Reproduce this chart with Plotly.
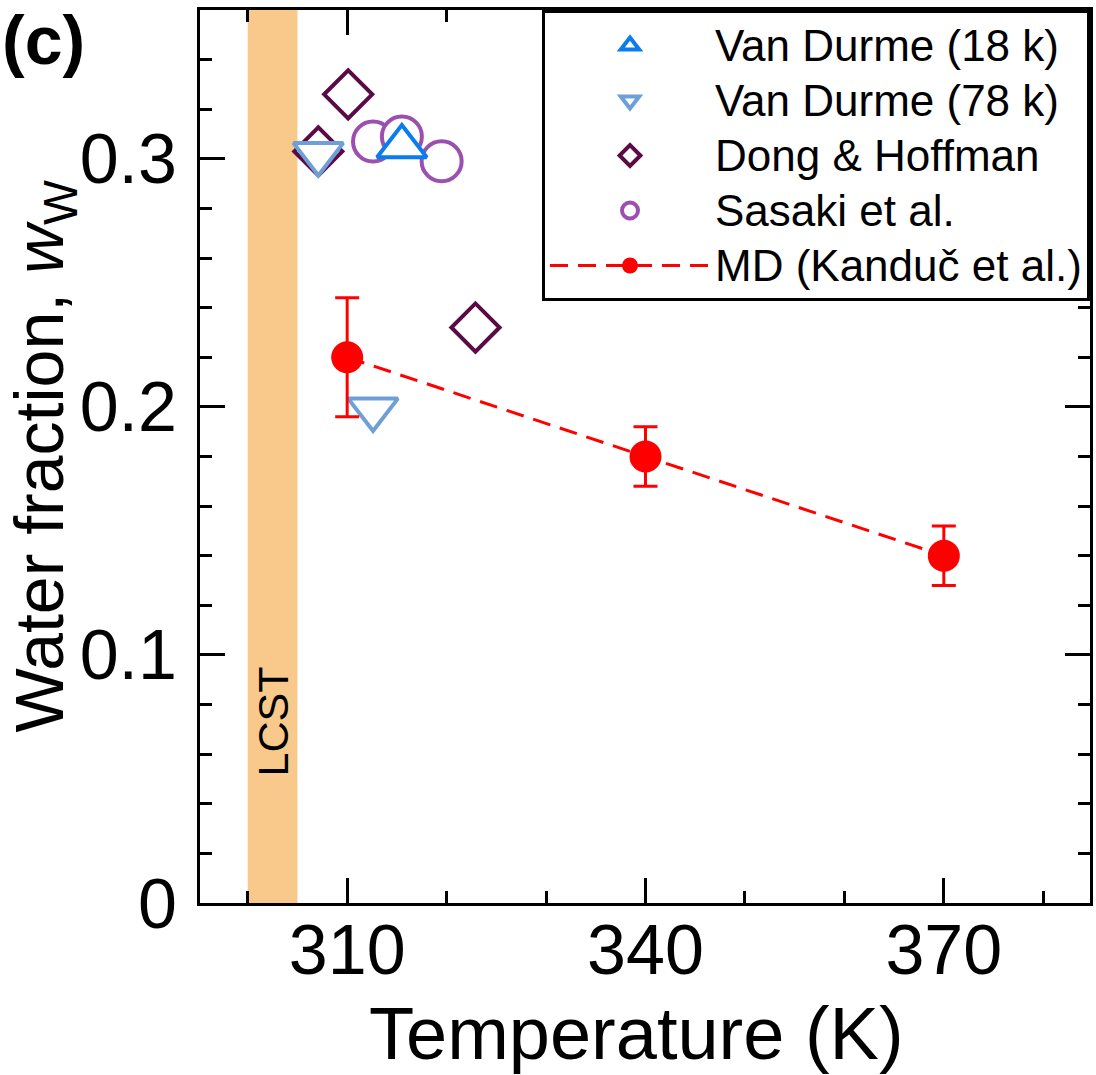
import plotly.graph_objects as go

# ---- data ----
vd18_T = [315.5]
vd18_w = [0.305]

vd78_T = [307.1, 312.6]
vd78_w = [0.302, 0.199]

dong_T = [307.1, 310.1, 322.9]
dong_w = [0.303, 0.326, 0.232]

sasaki_T = [312.6, 315.5, 319.5]
sasaki_w = [0.307, 0.309, 0.299]

md_T = [310, 340, 370]
md_w = [0.220, 0.180, 0.140]
md_err = [0.024, 0.012, 0.012]

LCST_RANGE = [300, 305]

FONT = "Liberation Sans, Arial, Helvetica, sans-serif"


def lg(name):
    # legend label slightly larger than the row spacing font
    return '<span style="font-size:44px">' + name + "</span>"


fig = go.Figure()

fig.add_trace(go.Scatter(
    x=dong_T, y=dong_w, mode="markers", name=lg("Dong &amp; Hoffman"), legendrank=3,
    marker=dict(symbol="diamond", size=37, color="white",
                line=dict(color="#5C0A46", width=4)),
))
fig.add_trace(go.Scatter(
    x=sasaki_T, y=sasaki_w, mode="markers", name=lg("Sasaki et al."), legendrank=4,
    marker=dict(symbol="circle", size=40, color="white",
                line=dict(color="#9B50B0", width=4)),
))
fig.add_trace(go.Scatter(
    x=vd18_T, y=vd18_w, mode="markers", name=lg("Van Durme (18 k)"), legendrank=1,
    marker=dict(symbol="triangle-up", size=43, color="white",
                line=dict(color="#0A7CF2", width=4)),
))
fig.add_trace(go.Scatter(
    x=vd78_T, y=vd78_w, mode="markers", name=lg("Van Durme (78 k)"), legendrank=2,
    marker=dict(symbol="triangle-down", size=43, color="white",
                line=dict(color="#6E9FD6", width=4)),
))
fig.add_trace(go.Scatter(
    x=md_T, y=md_w, mode="lines+markers", name=lg("MD (Kanduč et al.)"), legendrank=5,
    line=dict(color="#FF0000", width=3, dash="18px,10px"),
    marker=dict(symbol="circle", size=32, color="#FF0000"),
    error_y=dict(type="data", array=md_err, visible=True, color="#FF0000",
                 thickness=3, width=12),
))

# LCST band
fig.add_shape(type="rect", xref="x", yref="y domain",
              x0=LCST_RANGE[0], x1=LCST_RANGE[1], y0=0, y1=1,
              fillcolor="#F9C98B", line=dict(width=0), layer="below")
fig.add_annotation(x=sum(LCST_RANGE) / 2, y=0.073, xref="x", yref="y",
                   text="LCST", textangle=-90, showarrow=False,
                   font=dict(family=FONT, size=43, color="black"))

# panel label
fig.add_annotation(x=-200 / 890, y=1 + 10 / 893, xref="paper", yref="paper",
                   xanchor="left", yanchor="top", yshift=0,
                   text="<b>(c)</b>", showarrow=False,
                   font=dict(family=FONT, size=68, color="black"))

# axis titles as annotations for precise placement
fig.add_annotation(x=-200 / 890, y=0.5, xref="paper", yref="paper",
                   xanchor="left", yanchor="middle", xshift=-2, yshift=0,
                   text="Water fraction, <i>w</i><sub>W</sub>", textangle=-90,
                   showarrow=False,
                   font=dict(family=FONT, size=68, color="black"))
fig.add_annotation(x=(636 - 200) / 890, y=(903 - 1033) / 893, xref="paper", yref="paper",
                   xanchor="center", yanchor="middle",
                   text="Temperature (K)", showarrow=False,
                   font=dict(family=FONT, size=74, color="black"))

axis_common = dict(
    showline=True, linecolor="black", linewidth=3, mirror="allticks",
    ticks="inside", tickcolor="black", tickwidth=3, ticklen=25,
    showgrid=False, zeroline=False, automargin=False,
    tickfont=dict(family=FONT, size=70, color="black"),
)

fig.update_xaxes(
    range=[295.2, 384.7], tickmode="linear", tick0=310, dtick=30,
    minor=dict(dtick=10, tick0=300, ticks="inside", ticklen=12,
               tickwidth=3, tickcolor="black", showgrid=False),
    ticklabelstandoff=-16,
    **axis_common,
)
fig.update_yaxes(
    range=[0, 0.36], tickmode="array", tickvals=[0, 0.1, 0.2, 0.3],
    ticktext=["0", "0.1", "0.2", "0.3"],
    minor=dict(dtick=0.02, tick0=0, ticks="inside", ticklen=12,
               tickwidth=3, tickcolor="black", showgrid=False),
    ticklabelstandoff=6,
    **axis_common,
)

fig.update_layout(
    width=1096, height=1075,
    margin=dict(l=200, r=6, t=10, b=172),
    paper_bgcolor="white", plot_bgcolor="white",
    showlegend=True,
    legend=dict(x=1, y=1, xanchor="right", yanchor="top",
                bgcolor="white", bordercolor="black", borderwidth=3,
                font=dict(family=FONT, size=40, color="black"),
                itemsizing="trace", itemwidth=160, tracegroupgap=0),
    font=dict(family=FONT),
)

fig.write_html("out.html")
